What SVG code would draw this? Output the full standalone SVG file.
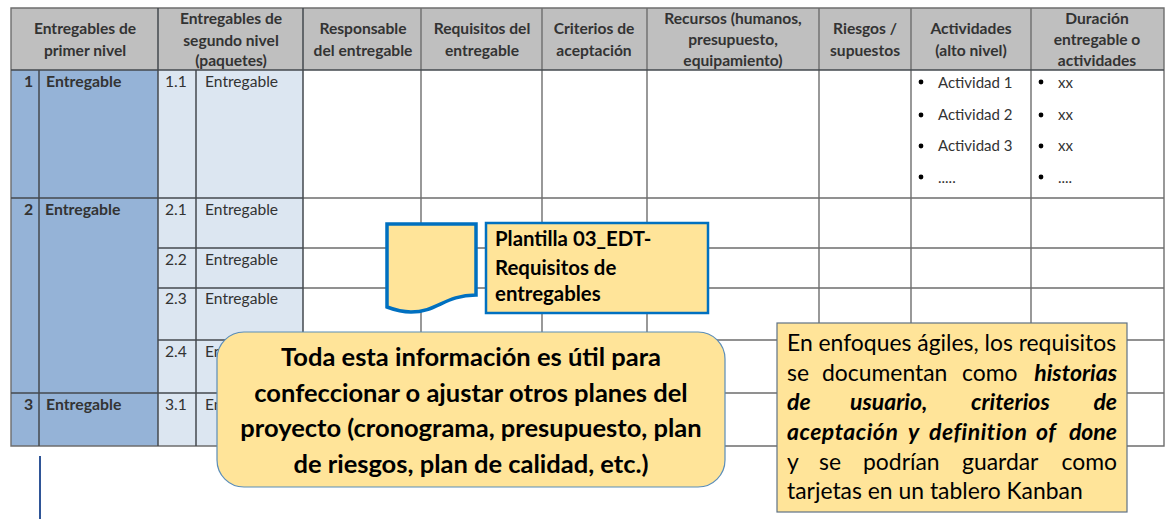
<svg xmlns="http://www.w3.org/2000/svg" width="1172" height="519" viewBox="0 0 1172 519">
<style>
text{font-family:Lato,"Liberation Sans",sans-serif;fill:#333}
.h{font-size:15.6px;font-weight:700;text-anchor:middle}
.b{font-size:15.8px;font-weight:700}
.c{font-size:15.6px}
.a{font-size:15px}
.l{fill:none;stroke:#6e6e6e;stroke-width:1.4}
.d{fill:none;stroke:#44494f;stroke-width:1.5}
.k{fill:#000}
.box{fill:#ffe499;stroke:#0070c0}
.big{font-size:25.5px;font-weight:700;text-anchor:middle;fill:#000}
.n{font-size:22.9px;fill:#000}
.ni{font-size:23px;font-weight:700;font-style:italic;fill:#000}
</style>
<rect width="1172" height="519" fill="#fff"/>
<g id="tabla">
<rect x="11" y="8" width="1153" height="62" fill="#bfbfbf"/>
<rect x="11" y="70" width="147" height="376" fill="#95b3d7"/>
<rect x="158" y="70" width="145" height="376" fill="#dce6f1"/>
<g class="l">
<path d="M11 8H1164V446H11Z"/>
<path d="M303 198H1164M303 248H1164M303 288H1164M303 340H1164M303 393H1164"/>
<path d="M421 8V446M542 8V446M647 8V446M819 8V446M911 8V446M1031 8V446"/>
</g>
<g class="d">
<path d="M11 70H1164M11 198H303M158 248H303M158 288H303M158 340H303M11 393H303"/>
<path d="M39 70V446M158 8V446M196 70V446M303 8V446"/>
</g>
<text class="h"><tspan x="85" y="34">Entregables de</tspan><tspan x="85" y="56">primer nivel</tspan></text>
<text class="h"><tspan x="231" y="24">Entregables de</tspan><tspan x="231" y="46">segundo nivel</tspan><tspan x="231" y="66">(paquetes)</tspan></text>
<text class="h"><tspan x="363" y="34">Responsable</tspan><tspan x="363" y="56">del entregable</tspan></text>
<text class="h"><tspan x="482" y="34">Requisitos del</tspan><tspan x="482" y="56">entregable</tspan></text>
<text class="h"><tspan x="594" y="34">Criterios de</tspan><tspan x="594" y="56">aceptación</tspan></text>
<text class="h"><tspan x="733" y="24">Recursos (humanos,</tspan><tspan x="733" y="45">presupuesto,</tspan><tspan x="733" y="66">equipamiento)</tspan></text>
<text class="h"><tspan x="865" y="34">Riesgos /</tspan><tspan x="865" y="56">supuestos</tspan></text>
<text class="h"><tspan x="971" y="34">Actividades</tspan><tspan x="971" y="56">(alto nivel)</tspan></text>
<text class="h"><tspan x="1097" y="24">Duración</tspan><tspan x="1097" y="45">entregable o</tspan><tspan x="1097" y="66">actividades</tspan></text>
<text class="b" x="24" y="87">1</text><text class="b" x="46" y="87">Entregable</text>
<text class="b" x="24" y="215">2</text><text class="b" x="45" y="215">Entregable</text>
<text class="b" x="24" y="410">3</text><text class="b" x="46" y="410">Entregable</text>
<text class="c" x="165" y="87">1.1</text><text class="c" x="205" y="87">Entregable</text>
<text class="c" x="165" y="215">2.1</text><text class="c" x="205" y="215">Entregable</text>
<text class="c" x="165" y="265">2.2</text><text class="c" x="205" y="265">Entregable</text>
<text class="c" x="165" y="304">2.3</text><text class="c" x="205" y="304">Entregable</text>
<text class="c" x="165" y="357">2.4</text><text class="c" x="205" y="357">En</text>
<text class="c" x="165" y="410">3.1</text><text class="c" x="205" y="410">En</text>
<g class="k"><circle cx="921" cy="82" r="2.4"/><circle cx="921" cy="115" r="2.4"/><circle cx="921" cy="146" r="2.4"/><circle cx="921" cy="177" r="2.4"/><circle cx="1041" cy="82" r="2.4"/><circle cx="1041" cy="115" r="2.4"/><circle cx="1041" cy="146" r="2.4"/><circle cx="1041" cy="177" r="2.4"/></g>
<text class="a" x="938" y="88">Actividad 1</text><text class="a" x="938" y="120">Actividad 2</text><text class="a" x="938" y="151">Actividad 3</text><text class="a" x="938" y="183">.....</text>
<text class="a" x="1058" y="88">xx</text><text class="a" x="1058" y="120">xx</text><text class="a" x="1058" y="151">xx</text><text class="a" x="1058" y="183">....</text>
</g>
<g id="conectores">
<path d="M40 456V519" fill="none" stroke="#2f5597" stroke-width="2"/>
</g>
<g id="documento">
<path class="box" stroke-width="3.5" d="M387 224H476V295C445 295 437 312 411 312C402 312 395 310 387 307Z"/>
</g>
<g id="plantilla">
<rect class="box" x="486" y="223" width="222" height="90" stroke-width="2.5"/>
<text font-size="20.4" font-weight="700" style="fill:#000"><tspan x="495" y="246">Plantilla 03_EDT-</tspan><tspan x="495" y="275">Requisitos de</tspan><tspan x="495" y="301">entregables</tspan></text>
</g>
<g id="informacion">
<rect x="217" y="332" width="508" height="155" rx="27" fill="#ffe499" stroke="#5b8db8" stroke-width="1.2"/>
<text class="big"><tspan x="471" y="366">Toda esta información es útil para</tspan><tspan x="471" y="402">confeccionar o ajustar otros planes del</tspan><tspan x="471" y="437">proyecto (cronograma, presupuesto, plan</tspan><tspan x="471" y="473">de riesgos, plan de calidad, etc.)</tspan></text>
</g>
<g id="nota">
<rect x="777" y="323" width="350" height="189" fill="#ffe499" stroke="#5f7285" stroke-width="1.2"/>
<text class="n" x="787" y="351">En enfoques ágiles, los requisitos</text>
<text class="n" y="381"><tspan x="787">se</tspan><tspan x="822">documentan</tspan><tspan x="962">como</tspan></text>
<text class="ni" x="1117" y="381" text-anchor="end">historias</text>
<text class="ni" y="410"><tspan x="787">de</tspan><tspan x="850">usuario,</tspan><tspan x="971">criterios</tspan></text>
<text class="ni" x="1117" y="410" text-anchor="end">de</text>
<text class="ni" y="440" letter-spacing="0.5"><tspan x="787">aceptación</tspan><tspan x="908">y</tspan><tspan x="929">definition</tspan><tspan x="1036">of</tspan></text>
<text class="ni" x="1117" y="440" text-anchor="end">done</text>
<text class="n" y="470"><tspan x="787">y</tspan><tspan x="819">se</tspan><tspan x="863">podrían</tspan><tspan x="962">guardar</tspan></text>
<text class="n" x="1117" y="470" text-anchor="end">como</text>
<text class="n" x="787" y="499">tarjetas en un tablero Kanban</text>
</g>
</svg>
